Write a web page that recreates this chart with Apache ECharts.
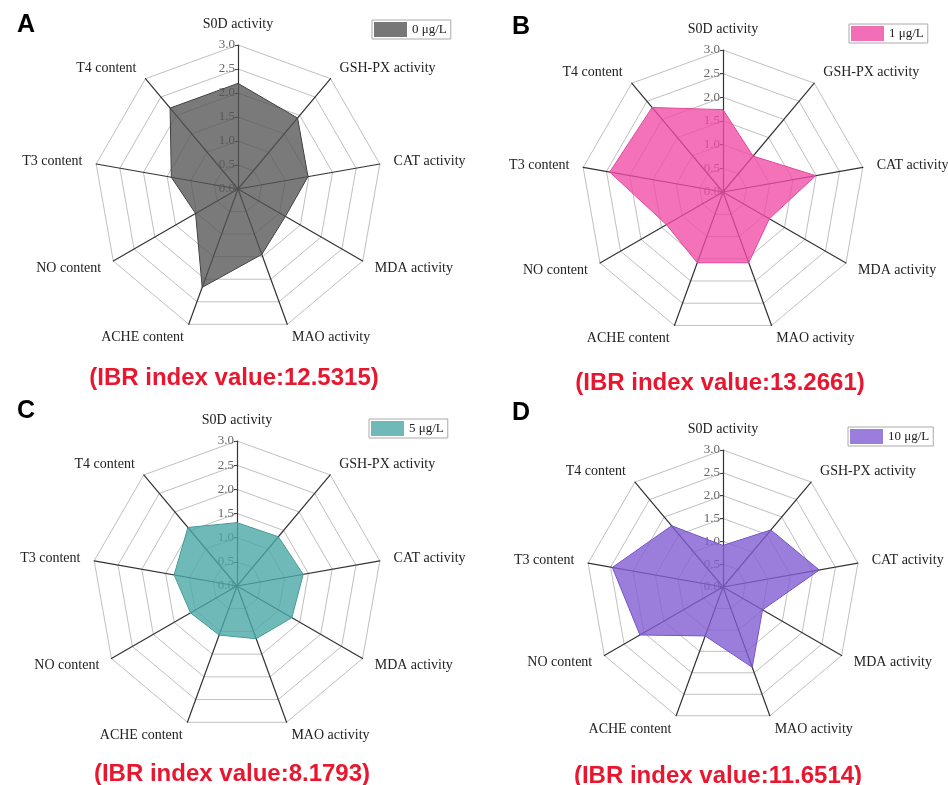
<!DOCTYPE html>
<html>
<head>
<meta charset="utf-8">
<script src="https://cdn.jsdelivr.net/npm/echarts@6/dist/echarts.min.js"></script>
<style>
  html, body { margin: 0; padding: 0; background: #fff; }
  #chart { width: 948px; height: 785px; }
</style>
</head>
<body>
<div id="chart"></div>
<script>
// indicator names, clockwise from the top
var indicators = ['S0D activity', 'GSH-PX activity', 'CAT activity', 'MDA activity', 'MAO activity', 'ACHE content', 'NO content', 'T3 content', 'T4 content']
var seriesNames = ['0 μg/L', '1 μg/L', '5 μg/L', '10 μg/L']
var panelLetters = ['A', 'B', 'C', 'D']
var ibrValues = ['12.5315', '13.2661', '8.1793', '11.6514']
var values0 = [2.2, 1.93, 1.48, 1.14, 1.45, 2.18, 1.02, 1.41, 2.2]
var values1 = [1.74, 0.99, 1.99, 1.13, 1.59, 1.59, 1.38, 2.43, 2.33]
var values5 = [1.31, 1.33, 1.39, 1.31, 1.16, 1.08, 1.11, 1.32, 1.58]
var values10 = [0.91, 1.63, 2.14, 1.0, 1.87, 1.14, 2.1, 2.46, 1.75]
var allValues = [values0, values1, values5, values10]

var serif = 'Liberation Serif'
var sans = 'Liberation Sans'

// panel layout
var panels = [
  { center: [238, 189], radius: 144, legend: [372, 20], letter: [26, 13], ibr: [234, 366] },
  { center: [723, 192], radius: 142, legend: [849, 24], letter: [521, 15], ibr: [720, 371] },
  { center: [237, 586], radius: 145, legend: [369, 419], letter: [26, 399], ibr: [232, 762] },
  { center: [723, 587], radius: 137, legend: [848, 427], letter: [521, 401], ibr: [718, 764] }
]
var fills = ['rgba(85,85,85,0.78)', 'rgba(239,74,164,0.78)', 'rgba(75,169,166,0.8)', 'rgba(130,93,211,0.8)']
var legendColors = ['#777', '#f26eb6', '#6fbab8', '#9b7ddc']
var borders = ['#333', '#d9479a', '#3f8f8c', '#6d4bbf']

// echarts radar goes counterclockwise, so reverse everything after the top axis
var order = [0, 8, 7, 6, 5, 4, 3, 2, 1]

var chart = echarts.init(document.getElementById('chart'))

var radar = []
var series = []
var legend = []
var title = []

panels.forEach(function(p, i) {
  radar.push({
    center: p.center,
    radius: p.radius,
    shape: 'polygon',
    startAngle: 90,
    splitNumber: 6,
    indicator: order.map(function(k, j) {
      var ind = { name: indicators[k], min: 0, max: 3 }
      if (j === 0) {
        ind.axisLabel = {
          show: true,
          color: '#666',
          fontFamily: serif,
          fontSize: 13,
          margin: 3,
          formatter: function(v) { return v.toFixed(1) }
        }
        ind.axisTick = { show: true, length: 3, lineStyle: { color: '#444' } }
      }
      return ind
    }),
    nameGap: 14,
    axisName: {
      color: '#222',
      fontFamily: serif,
      fontSize: 14
    },
    axisLine: { lineStyle: { color: '#333', width: 1.2 } },
    splitLine: { lineStyle: { color: '#c0c0c0', width: 1 } },
    splitArea: { show: false }
  })
  series.push({
    name: seriesNames[i],
    type: 'radar',
    radarIndex: i,
    symbol: 'none',
    itemStyle: { color: legendColors[i] },
    lineStyle: { color: borders[i], width: 1 },
    areaStyle: { color: fills[i], opacity: 1 },
    data: [{ name: seriesNames[i], value: order.map(function(k) { return allValues[i][k] }) }]
  })
  legend.push({
    data: [seriesNames[i]],
    left: p.legend[0],
    top: p.legend[1],
    icon: 'rect',
    itemWidth: 33,
    itemHeight: 15,
    itemGap: 4,
    padding: [2, 4, 2, 2],
    borderColor: '#aaa',
    borderWidth: 1,
    textStyle: { fontFamily: serif, fontSize: 13, color: '#222' }
  })
  title.push({
    text: panelLetters[i],
    left: p.letter[0],
    top: p.letter[1],
    textAlign: 'center',
    padding: 0,
    textStyle: { fontFamily: sans, fontWeight: 'bold', fontSize: 25, color: '#000' }
  })
  title.push({
    text: '(IBR index value:' + ibrValues[i] + ')',
    left: p.ibr[0],
    top: p.ibr[1],
    textAlign: 'center',
    padding: 0,
    textStyle: { fontFamily: sans, fontWeight: 'bold', fontSize: 24, color: '#e8172f' }
  })
})

chart.setOption({
  backgroundColor: '#fff',
  animation: false,
  title: title,
  legend: legend,
  radar: radar,
  series: series
})
</script>
</body>
</html>
